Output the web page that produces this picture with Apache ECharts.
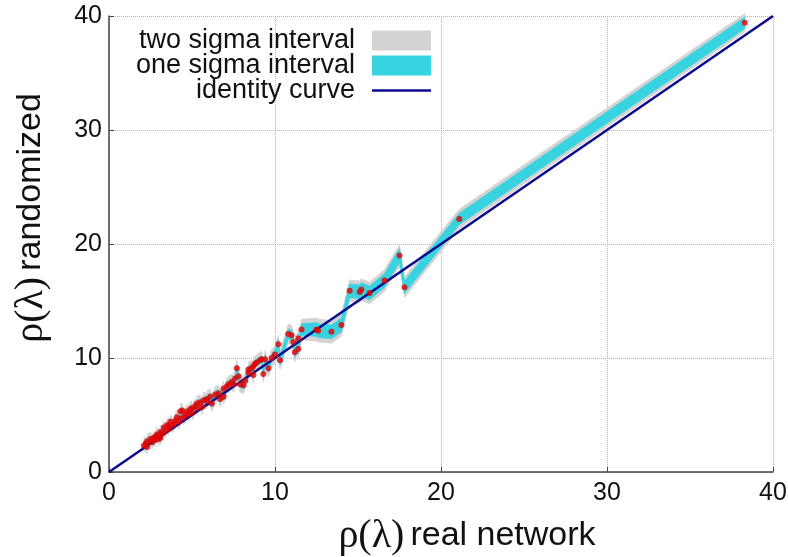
<!DOCTYPE html>
<html>
<head>
<meta charset="utf-8">
<script src="https://cdn.jsdelivr.net/npm/echarts@6/dist/echarts.min.js"></script>
<style>
  html, body { margin: 0; padding: 0; background: #fff; }
  #chart { width: 788px; height: 557px; }
</style>
</head>
<body>
<div id="chart"></div>
<script>
// rho(lambda) of the real network vs. the randomized ensemble
const realRho = [
  2.1, 2.2, 2.3, 2.3, 2.5, 2.6, 2.7, 2.8, 2.8, 2.9,
  3.0, 3.1, 3.1, 3.2, 3.3, 3.4, 3.5, 3.6, 3.6, 3.7,
  3.8, 3.9, 4.0, 4.1, 4.2, 4.3, 4.3, 4.4, 4.5, 4.6,
  4.7, 4.8, 4.9, 5.0, 5.0, 5.2, 5.3, 5.3, 5.5, 5.6,
  5.7, 5.9, 5.9, 6.1, 6.2, 6.4, 6.6, 6.7, 6.9, 6.9,
  7.1, 7.2, 7.4, 7.5, 7.6, 7.7, 7.8, 7.9, 8.1, 8.2,
  8.4, 8.4, 8.6, 8.7, 8.7, 8.8, 8.9, 9.1, 9.2, 9.3,
  9.4, 9.6, 9.8, 10.0, 10.2, 10.3, 10.8, 11.0, 11.1, 11.2,
  11.4, 11.4, 11.6, 12.5, 12.6, 13.4, 14.0, 14.5, 15.1, 15.2,
  15.7, 16.6, 17.5, 17.8, 21.1, 38.3
]
const randRho = [
  2.3, 2.5, 2.2, 2.7, 2.9, 2.6, 3.0, 2.8, 3.1, 3.3,
  2.9, 3.5, 3.0, 3.4, 3.9, 3.6, 4.1, 3.8, 4.0, 4.4,
  4.1, 4.2, 4.5, 4.8, 4.4, 4.7, 5.3, 5.4, 4.8, 5.0,
  5.3, 5.1, 5.5, 5.6, 5.2, 5.8, 5.6, 6.0, 6.1, 5.7,
  6.3, 6.2, 6.4, 6.6, 6.0, 6.8, 6.9, 6.4, 7.3, 6.6,
  7.5, 7.7, 7.9, 7.7, 8.2, 9.1, 8.4, 7.7, 7.6, 8.0,
  8.7, 9.0, 9.1, 8.5, 9.3, 9.5, 9.6, 9.8, 9.9, 8.6,
  9.9, 9.1, 10.0, 10.3, 11.2, 9.8, 12.1, 12.0, 11.4, 10.5,
  11.7, 10.8, 12.5, 12.5, 12.4, 12.3, 12.9, 15.9, 15.8, 16.0,
  15.7, 16.8, 19.0, 16.2, 22.2, 39.4
]
// half widths of the bands
const oneSigma = [
  0.25, 0.25, 0.25, 0.25, 0.25, 0.25, 0.25, 0.25, 0.25, 0.25,
  0.25, 0.25, 0.25, 0.25, 0.25, 0.25, 0.25, 0.25, 0.25, 0.25,
  0.25, 0.25, 0.25, 0.25, 0.25, 0.25, 0.25, 0.25, 0.25, 0.25,
  0.3, 0.3, 0.3, 0.3, 0.3, 0.3, 0.3, 0.3, 0.3, 0.3,
  0.3, 0.3, 0.3, 0.3, 0.3, 0.3, 0.3, 0.3, 0.3, 0.3,
  0.3, 0.3, 0.3, 0.3, 0.3, 0.3, 0.3, 0.3, 0.3, 0.3,
  0.3, 0.3, 0.3, 0.3, 0.3, 0.3, 0.3, 0.3, 0.3, 0.3,
  0.35, 0.35, 0.35, 0.4, 0.4, 0.4, 0.45, 0.45, 0.45, 0.45,
  0.45, 0.45, 0.5, 0.6, 0.6, 0.6, 0.6, 0.6, 0.6, 0.6,
  0.6, 0.6, 0.6, 0.55, 0.5, 0.5
]
const twoSigma = [
  0.6, 0.6, 0.6, 0.6, 0.6, 0.6, 0.6, 0.6, 0.6, 0.6,
  0.6, 0.6, 0.6, 0.6, 0.6, 0.6, 0.6, 0.6, 0.6, 0.6,
  0.65, 0.65, 0.65, 0.65, 0.65, 0.65, 0.65, 0.65, 0.65, 0.65,
  0.65, 0.65, 0.65, 0.65, 0.65, 0.65, 0.65, 0.65, 0.65, 0.65,
  0.7, 0.7, 0.7, 0.7, 0.7, 0.7, 0.7, 0.7, 0.7, 0.7,
  0.7, 0.7, 0.7, 0.7, 0.7, 0.7, 0.7, 0.7, 0.7, 0.7,
  0.7, 0.7, 0.7, 0.7, 0.7, 0.7, 0.7, 0.7, 0.7, 0.7,
  0.75, 0.75, 0.75, 0.8, 0.8, 0.8, 0.85, 0.85, 0.85, 0.85,
  0.85, 0.85, 0.9, 1.0, 1.0, 1.0, 1.0, 0.95, 0.95, 0.95,
  0.95, 0.95, 0.95, 0.9, 0.85, 0.8
]
const identity = [[0, 0], [40, 40]]
const ticks = [0, 10, 20, 30, 40]

const GRAY = '#d3d3d3'
const CYAN = '#38d3e0'
const NAVY = '#0a0a8c'
const SANS = 'Liberation Sans, Arial, sans-serif'
const SERIF = 'Liberation Serif, DejaVu Serif, serif'

// band polygon: upper edge left->right, lower edge right->left
function bandSeries(name, half, color) {
  return {
    name, type: 'custom', silent: true, z: 1,
    itemStyle: { color },
    data: [[realRho[0], randRho[0]]],
    renderItem: (params, api) => {
      const upper = realRho.map((x, i) => api.coord([x, randRho[i] + half[i]]))
      const lower = realRho.map((x, i) => api.coord([x, randRho[i] - half[i]])).reverse()
      return {
        type: 'polygon',
        shape: { points: upper.concat(lower) },
        style: { fill: color, stroke: color, lineWidth: 0.8 },
      }
    },
  }
}

const axisCommon = {
  type: 'value', min: 0, max: 40, interval: 10,
  axisLine: { show: true, lineStyle: { color: '#444', width: 1.5 } },
  axisTick: { show: true, inside: true, length: 5, lineStyle: { color: '#444' } },
  axisLabel: {
    fontFamily: SANS, fontSize: 25, color: '#111',
    formatter: v => ticks.includes(v) ? String(v) : '',
  },
  splitLine: { show: true, lineStyle: { type: 'dotted', color: '#b5b5b5', width: 1 } },
}

const nameRich = {
  a: { fontFamily: SERIF, fontSize: 40, color: '#111' },
  b: { fontFamily: SANS, fontSize: 34, color: '#111', padding: [0, 0, 0, 6] },
}

const chart = echarts.init(document.getElementById('chart'), null, { renderer: 'canvas' })
chart.setOption({
  animation: false,
  backgroundColor: '#fff',
  grid: { left: 109, right: 15, top: 16, bottom: 85, outerBoundsMode: 'none' },
  legend: {
    orient: 'vertical', align: 'right',
    right: 357, top: 27, padding: 0,
    itemWidth: 59, itemHeight: 20, itemGap: -2,
    selectedMode: false,
    textStyle: { fontFamily: SANS, fontSize: 27, color: '#111', padding: [0, 12, 0, 0] },
    data: [
      { name: 'two sigma interval', icon: 'rect', itemStyle: { color: GRAY } },
      { name: 'one sigma interval', icon: 'rect', itemStyle: { color: CYAN } },
      { name: 'identity curve', icon: 'path://M0,0 L50,0 L50,2.2 L0,2.2 Z', itemStyle: { color: NAVY } },
    ],
  },
  xAxis: {
    ...axisCommon,
    axisLabel: { ...axisCommon.axisLabel, margin: 9 },
    name: '{a|ρ(λ)}{b|real network}',
    nameLocation: 'middle', nameGap: 44,
    nameTextStyle: { padding: [0, 0, 0, 52], rich: nameRich },
  },
  yAxis: {
    ...axisCommon,
    axisLabel: { ...axisCommon.axisLabel, margin: 7 },
    name: '{a|ρ(λ)}{b|randomized}',
    nameLocation: 'middle', nameGap: 58,
    nameTextStyle: { padding: [0, 0, 0, 52], rich: nameRich },
  },
  series: [
    bandSeries('two sigma interval', twoSigma, GRAY),
    bandSeries('one sigma interval', oneSigma, CYAN),
    {
      name: 'identity curve', type: 'line', data: identity, symbol: 'none',
      lineStyle: { color: NAVY, width: 2.5 }, itemStyle: { color: NAVY }, z: 3,
    },
    {
      name: 'points', type: 'scatter',
      data: realRho.map((x, i) => [x, randRho[i]]),
      symbolSize: 6, itemStyle: { color: '#e40000' }, z: 4,
    },
  ],
})
</script>
</body>
</html>
